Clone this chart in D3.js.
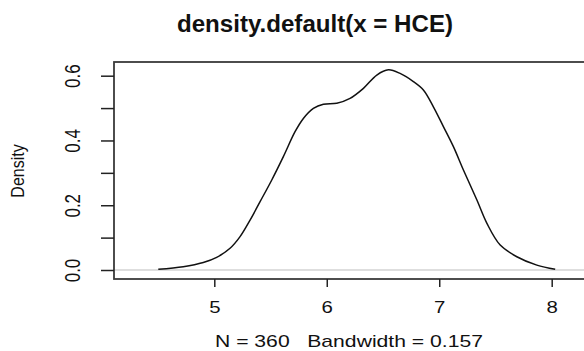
<!DOCTYPE html>
<html>
<head>
<meta charset="utf-8">
<script src="https://cdn.jsdelivr.net/npm/d3@7"></script>
<style>
  html, body { margin: 0; padding: 0; background: #fff; }
  svg { display: block; font-family: "Liberation Sans", Arial, sans-serif; }
</style>
</head>
<body>
<svg id="chart" width="584" height="351"></svg>
<script>
// ---- data ----
const titleText = "density.default(x = HCE)";
const subtitleText = "N = 360   Bandwidth = 0.157";
const yAxisTitle = "Density";
const xTicks = [5, 6, 7, 8];
const yTicks = [0, 0.1, 0.2, 0.3, 0.4, 0.5, 0.6];
const yTickLabels = ["0.0", "", "0.2", "", "0.4", "", "0.6"];
const xValues = [4.502, 4.724, 4.902, 5.021, 5.140, 5.229, 5.318, 5.407, 5.511, 5.614,
                 5.718, 5.792, 5.881, 5.970, 6.089, 6.207, 6.326, 6.445, 6.548, 6.652,
                 6.770, 6.859, 6.948, 7.037, 7.126, 7.215, 7.335, 7.424, 7.542, 7.690,
                 7.868, 8.031];
const densityValues = [0.002, 0.010, 0.023, 0.039, 0.067, 0.103, 0.154, 0.211, 0.278, 0.350,
                       0.427, 0.468, 0.499, 0.512, 0.515, 0.530, 0.561, 0.602, 0.618, 0.607,
                       0.582, 0.556, 0.504, 0.443, 0.381, 0.309, 0.216, 0.144, 0.077, 0.041,
                       0.015, 0.002];

// ---- layout ----
const svg = d3.select("#chart");
const frame = { left: 114, top: 62, right: 600, bottom: 279 };

const x = d3.scaleLinear().domain([5, 8]).range([214.3, 551.7]);
const y = d3.scaleLinear().domain([0, 0.6]).range([270, 75.7]);

// zero reference line
svg.append("line")
  .attr("x1", frame.left).attr("x2", 584)
  .attr("y1", y(0)).attr("y2", y(0))
  .attr("stroke", "#bdbdbd").attr("stroke-width", 1.2);

// density curve
const pts = xValues.map((v, i) => [v, densityValues[i]]);
svg.append("path")
  .datum(pts)
  .attr("fill", "none")
  .attr("stroke", "#111")
  .attr("stroke-width", 1.5)
  .attr("d", d3.line().x(d => x(d[0])).y(d => y(d[1])).curve(d3.curveCatmullRom.alpha(0.5)));

// frame
svg.append("rect")
  .attr("x", frame.left).attr("y", frame.top)
  .attr("width", frame.right - frame.left).attr("height", frame.bottom - frame.top)
  .attr("fill", "none").attr("stroke", "#3a3a3a").attr("stroke-width", 1.8);

// x axis
const xAxis = d3.axisBottom(x).tickValues(xTicks).tickFormat(d3.format("d")).tickSize(8).tickPadding(14);
const gx = svg.append("g").attr("transform", `translate(0,${frame.bottom})`).call(xAxis);
gx.select(".domain").remove();
gx.selectAll(".tick line").attr("stroke", "#222").attr("stroke-width", 1.5);
gx.selectAll(".tick text")
  .attr("fill", "#111")
  .attr("transform", "scale(1.2,1)")
  .style("font-family", "'Liberation Sans', Arial, sans-serif")
  .style("font-size", "17px");

// y axis
const yAxis = d3.axisLeft(y).tickValues(yTicks).tickFormat((d, i) => yTickLabels[i]).tickSize(13).tickPadding(0);
const gy = svg.append("g").attr("transform", `translate(${frame.left},0)`).call(yAxis);
gy.select(".domain").remove();
gy.selectAll(".tick line").attr("stroke", "#222").attr("stroke-width", 1.5);
gy.selectAll(".tick text")
  .attr("fill", "#111")
  .attr("x", 0).attr("dy", null)
  .attr("text-anchor", "middle")
  .attr("transform", "translate(-34,0) scale(1.25,1) rotate(-90)")
  .attr("y", 0)
  .style("font-family", "'Liberation Sans', Arial, sans-serif")
  .style("font-size", "17px");

// y axis title
svg.append("text")
  .attr("transform", "translate(24,171) scale(1.1,1) rotate(-90)")
  .attr("text-anchor", "middle")
  .attr("fill", "#111")
  .style("font-size", "16px")
  .text(yAxisTitle);

// title
svg.append("text")
  .attr("x", 315).attr("y", 32)
  .attr("text-anchor", "middle")
  .attr("fill", "#111")
  .style("font-size", "23px")
  .style("font-weight", "bold")
  .attr("textLength", 276).attr("lengthAdjust", "spacingAndGlyphs")
  .text(titleText);

// subtitle
svg.append("text")
  .attr("x", 349).attr("y", 347)
  .attr("text-anchor", "middle")
  .attr("fill", "#111")
  .style("font-size", "17px")
  .style("white-space", "pre")
  .attr("xml:space", "preserve")
  .attr("textLength", 268).attr("lengthAdjust", "spacingAndGlyphs")
  .text(subtitleText);
</script>
</body>
</html>
